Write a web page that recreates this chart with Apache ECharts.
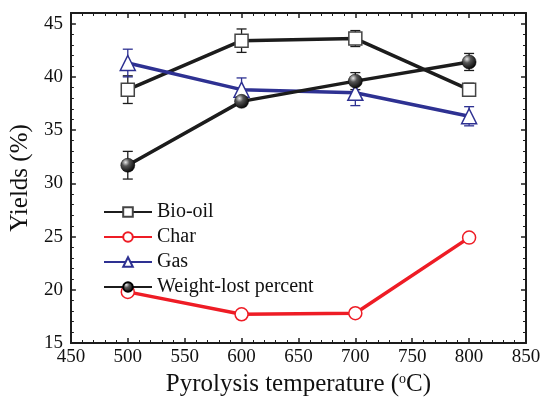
<!DOCTYPE html>
<html><head><meta charset="utf-8">
<script src="https://cdn.jsdelivr.net/npm/echarts@6/dist/echarts.min.js"></script>
<style>html,body{margin:0;padding:0;background:#fff}#c{width:544px;height:405px}</style>
</head><body><div id="c"></div>
<script>
const temps = [500, 600, 700, 800];
const bioOil = [38.8, 43.4, 43.6, 38.8];
const bioOilErr = [1.3, 1.1, 0.75, 0.6];
const charY = [19.8, 17.7, 17.8, 24.9];
const charErr = [0.3, 0.2, 0.1, 0.3];
const gas = [41.3, 38.8, 38.5, 36.3];
const gasErr = [1.3, 1.1, 1.2, 0.9];
const weightLost = [31.7, 37.7, 39.6, 41.4];
const weightLostErr = [1.3, 0.1, 0.8, 0.8];

const FONT = 'Liberation Serif';
const BLACK = '#1c1c1c', RED = '#ee1c25', BLUE = '#2e3192';

function pts(v){ return temps.map((t,i)=>[t, v[i]]); }
function errData(v,e){ return temps.map((t,i)=>[t, v[i]-e[i], v[i]+e[i]]); }
function errSeries(v,e,color){
  return {
    type:'custom', data: errData(v,e), z: 1, silent:true,
    renderItem(params, api){
      const x = api.value(0);
      const lo = api.coord([x, api.value(1)]);
      const hi = api.coord([x, api.value(2)]);
      const w = 5;
      const st = {stroke: color, lineWidth: 1.3};
      return {type:'group', children:[
        {type:'line', shape:{x1:lo[0],y1:lo[1],x2:hi[0],y2:hi[1]}, style:st},
        {type:'line', shape:{x1:lo[0]-w,y1:lo[1],x2:lo[0]+w,y2:lo[1]}, style:st},
        {type:'line', shape:{x1:hi[0]-w,y1:hi[1],x2:hi[0]+w,y2:hi[1]}, style:st}
      ]};
    }
  };
}
const sphere = {type:'radial', x:0.35, y:0.3, r:0.75, colorStops:[{offset:0,color:'#e8e8e8'},{offset:0.35,color:'#555'},{offset:1,color:'#000'}]};

const chart = echarts.init(document.getElementById('c'));
const tickCommon = {axisTick:{inside:true,length:5,lineStyle:{color:BLACK,width:1.5}}, minorTick:{show:true,splitNumber:5,length:3,lineStyle:{color:BLACK,width:1}}};
chart.setOption({
  animation:false,
  grid:{left:70,right:18,top:13,bottom:62},
  legend:{
    orient:'vertical', left:98, top:196, itemGap:3, itemWidth:48, itemHeight:12,
    textStyle:{fontFamily:FONT,fontSize:20,color:'#111',lineHeight:22},
    data:['Bio-oil','Char','Gas','Weight-lost percent']
  },
  xAxis:[{
    type:'value', min:450, max:850, interval:50,
    name:'Pyrolysis temperature ({sup|o}C)', nameLocation:'middle', nameGap:23,
    nameTextStyle:{fontFamily:FONT,fontSize:25,color:'#111',rich:{sup:{fontFamily:FONT,fontSize:14,verticalAlign:'top',padding:[0,0,12,0]}}},
    axisLine:{lineStyle:{color:BLACK,width:2}},
    axisLabel:{fontFamily:FONT,fontSize:19,color:'#111',margin:5},
    splitLine:{show:false}, ...tickCommon
  },{
    type:'value', min:450, max:850, interval:50, position:'top',
    axisLine:{lineStyle:{color:BLACK,width:2}}, axisLabel:{show:false}, splitLine:{show:false}, ...tickCommon
  }],
  yAxis:[{
    type:'value', min:15, max:46, interval:5,
    name:'Yields (%)', nameLocation:'middle', nameGap:37,
    nameTextStyle:{fontFamily:FONT,fontSize:25,color:'#111'},
    axisLine:{lineStyle:{color:BLACK,width:2}},
    axisLabel:{fontFamily:FONT,fontSize:19,color:'#111',margin:8,showMaxLabel:false,
      formatter:v=> (v%5===0?String(v):'')},
    splitLine:{show:false}, ...tickCommon
  },{
    type:'value', min:15, max:46, interval:5, position:'right',
    axisLine:{lineStyle:{color:BLACK,width:2}}, axisLabel:{show:false}, splitLine:{show:false}, ...tickCommon
  }],
  series:[
    errSeries(bioOil,bioOilErr,BLACK),
    errSeries(charY,charErr,RED),
    errSeries(gas,gasErr,BLUE),
    errSeries(weightLost,weightLostErr,BLACK),
    {name:'Bio-oil',type:'line',data:pts(bioOil),symbol:'rect',symbolSize:13,z:3,
      lineStyle:{color:BLACK,width:3.5},itemStyle:{color:'#fff',borderColor:'#444',borderWidth:1.5}},
    {name:'Char',type:'line',data:pts(charY),symbol:'circle',symbolSize:13,z:3,
      lineStyle:{color:RED,width:3.5},itemStyle:{color:'#fff',borderColor:RED,borderWidth:1.5}},
    {name:'Gas',type:'line',data:pts(gas),symbol:'triangle',symbolSize:15,z:3,
      lineStyle:{color:BLUE,width:3.5},itemStyle:{color:'#fff',borderColor:BLUE,borderWidth:1.5}},
    {name:'Weight-lost percent',type:'line',data:pts(weightLost),symbol:'circle',symbolSize:14,z:3,
      lineStyle:{color:BLACK,width:3.5},itemStyle:{color:sphere,borderColor:'#000',borderWidth:0.5}}
  ]
});
</script></body></html>
